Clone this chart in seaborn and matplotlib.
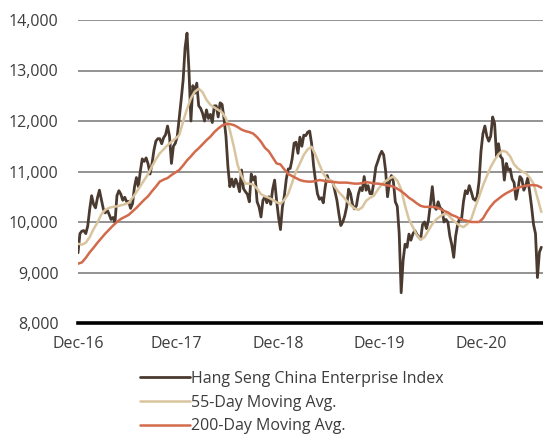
import pandas as pd
import matplotlib
matplotlib.use("Agg")
import matplotlib.pyplot as plt
import matplotlib.ticker as mticker
import seaborn as sns

# weekly closes (from 30 Dec 2016)
index_values = [
    9390, 9770, 9820, 9830, 9770, 9920, 10250, 10520, 10350, 10280,
    10480, 10630, 10450, 10260, 10180, 10240, 10150, 10050, 10090, 9990,
    10520, 10620, 10550, 10430, 10490, 10400, 10410, 10270, 10360, 10690,
    10880, 10700, 11000, 11250, 11200, 11270, 11150, 10950, 11150, 11420,
    11600, 11650, 11650, 11550, 11670, 11730, 11900, 11700, 11160, 11500,
    11560, 11700, 12050, 12420, 12810, 13450, 13740, 13000, 12000, 12700,
    12550, 12750, 12300, 12250, 12150, 12000, 12220, 12050, 12130, 11970,
    12300, 12300, 12080, 12360, 12330, 12050, 11700, 11100, 10700, 10850,
    10700, 10850, 10750, 10600, 11030, 10660, 10600, 10550, 10400, 10950,
    10830, 10900, 10400, 10300, 10100, 10430, 10500, 10380, 10500, 10350,
    10650, 10830, 10430, 10100, 9850, 10300, 10520, 10850, 11050, 11060,
    11250, 11560, 11580, 11360, 11680, 11500, 11720, 11710, 11780, 11800,
    11550, 11120, 10820, 10560, 10450, 10480, 10380, 10700, 10920, 10800,
    10800, 10780, 10600, 10430, 10165, 9930, 10000, 10120, 10300, 10650,
    10560, 10350, 10260, 10320, 10550, 10680, 10620, 10900, 10630, 10720,
    10560, 10560, 10800, 11090, 11200, 11320, 11400, 11330, 11020, 10500,
    10800, 10920, 10800, 10400, 10310, 9770, 8600, 9240, 9560, 9500,
    9760, 9640, 9760, 9830, 9760, 9700, 9660, 9950, 10000, 9870,
    10030, 10350, 10700, 10300, 10250, 10400, 10280, 10250, 10000, 10050,
    10000, 9720, 9550, 9300, 9720, 9950, 10070, 10050, 10400, 10620,
    10560, 10720, 10600, 10460, 10430, 10500, 10800, 11400, 11750, 11900,
    11700, 11600, 11700, 12080, 11950, 11300, 11550, 11300, 11250, 10830,
    11160, 11030, 11050, 10850, 10780, 10450, 10650, 10900, 10850, 10630,
    10720, 10870, 10600, 10300, 9950, 9770, 8900, 9400, 9500,
]

# moving averages, every second week
ma55_values = [
    9570, 9550, 9590, 9700, 9860, 9990, 10150, 10240, 10280, 10300,
    10310, 10330, 10350, 10380, 10480, 10590, 10710, 10830, 10950, 11100,
    11240, 11360, 11440, 11520, 11590, 11650, 11720, 11990, 12240, 12450,
    12580, 12640, 12570, 12420, 12320, 12270, 12220, 12170, 12050, 11820,
    11500, 11130, 10910, 10760, 10760, 10740, 10660, 10550, 10510, 10480,
    10440, 10390, 10360, 10440, 10560, 10780, 11000, 11160, 11330, 11440,
    11490, 11330, 11140, 10960, 10850, 10820, 10690, 10590, 10510, 10420,
    10340, 10270, 10240, 10290, 10420, 10480, 10520, 10640, 10740, 10810,
    10860, 10900, 10820, 10650, 10320, 10050, 9900, 9740, 9650, 9700,
    9830, 9960, 10050, 10110, 10160, 10150, 10060, 9990, 9930, 9900,
    9960, 10060, 10290, 10500, 10720, 10910, 11090, 11230, 11340, 11410,
    11390, 11300, 11140, 11060, 11000, 10970, 10880, 10760, 10480, 10200,
]

ma200_values = [
    9175, 9200, 9290, 9400, 9490, 9590, 9680, 9770, 9850, 9930,
    10000, 10060, 10100, 10140, 10210, 10280, 10360, 10440, 10510, 10610,
    10700, 10800, 10840, 10870, 10930, 10980, 11030, 11120, 11220, 11300,
    11390, 11460, 11540, 11620, 11690, 11780, 11850, 11910, 11940, 11940,
    11920, 11880, 11830, 11800, 11780, 11750, 11680, 11590, 11470, 11400,
    11280, 11160, 11140, 11040, 10950, 10910, 10870, 10830, 10810, 10800,
    10800, 10810, 10830, 10820, 10800, 10800, 10790, 10780, 10780, 10780,
    10770, 10760, 10760, 10770, 10790, 10780, 10760, 10760, 10750, 10730,
    10720, 10700, 10660, 10610, 10550, 10480, 10430, 10370, 10320, 10300,
    10300, 10300, 10290, 10260, 10220, 10190, 10140, 10110, 10070, 10040,
    10020, 10000, 10000, 10000, 10070, 10200, 10310, 10400, 10460, 10520,
    10570, 10610, 10650, 10680, 10700, 10720, 10730, 10730, 10720, 10680,
]

series_labels = ["Hang Seng China Enterprise Index", "55-Day Moving Avg.", "200-Day Moving Avg."]
series_colors = ["#4a3a30", "#d9c49e", "#d26a4c"]
tick_labels = ["Dec-16", "Dec-17", "Dec-18", "Dec-19", "Dec-20"]
tick_dates = ["2016-12-30", "2017-12-20", "2018-12-20", "2019-12-20", "2020-12-20"]

start = "2016-12-30"
idx = pd.DataFrame({"date": pd.date_range(start, periods=len(index_values), freq="7D"),
                    "value": index_values})
ma_dates = pd.date_range(start, periods=len(ma55_values), freq="14D")
ma55 = pd.DataFrame({"date": ma_dates, "value": ma55_values})
ma200 = pd.DataFrame({"date": ma_dates, "value": ma200_values})

sns.set_style("white")
plt.rcParams["font.family"] = ["Open Sans", "DejaVu Sans"]

fig = plt.figure(figsize=(5.43, 4.38), dpi=100)
ax = fig.add_axes([78 / 543, 1 - 323 / 438, 1 - 78 / 543, 303 / 438])

for yv in range(9000, 14001, 1000):
    ax.axhline(yv, color="#8a8a8a", lw=1.3, zorder=0)

sns.lineplot(data=idx, x="date", y="value", ax=ax, color=series_colors[0], lw=2.0,
             label=series_labels[0])
sns.lineplot(data=ma55, x="date", y="value", ax=ax, color=series_colors[1], lw=1.8,
             label=series_labels[1])
sns.lineplot(data=ma200, x="date", y="value", ax=ax, color=series_colors[2], lw=1.8,
             label=series_labels[2])

ax.set_xlim(pd.Timestamp("2016-12-30"), pd.Timestamp("2021-07-29"))
ax.set_ylim(8000, 14000)
ax.set_xlabel("")
ax.set_ylabel("")

ax.set_xticks(pd.to_datetime(tick_dates))
ax.set_xticklabels(tick_labels)
ax.set_yticks(range(8000, 14001, 1000))
ax.yaxis.set_major_formatter(mticker.FuncFormatter(lambda v, p: f"{int(v):,}"))
ax.tick_params(axis="both", length=0, labelsize=11.5, labelcolor="#3c3c3c")
ax.tick_params(axis="y", pad=14)
ax.tick_params(axis="x", pad=9)

for s in ["top", "right", "left"]:
    ax.spines[s].set_visible(False)
ax.spines["bottom"].set_color("black")
ax.spines["bottom"].set_linewidth(2.6)

ax.legend_.remove()
handles, labels = ax.get_legend_handles_labels()
fig.legend(handles, labels, loc="upper left", bbox_to_anchor=(140 / 543, 1 - 371 / 438),
           frameon=False, fontsize=11.5, handlelength=3.1, handletextpad=0.1,
           labelspacing=0.48, borderaxespad=0, borderpad=0, labelcolor="#3c3c3c")

fig.savefig("out.png", dpi=100)
